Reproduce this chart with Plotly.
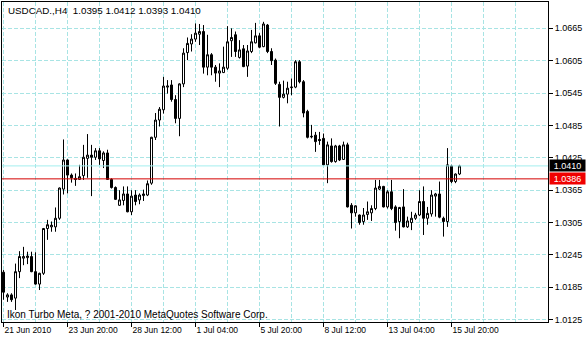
import plotly.graph_objects as go

# ---- data (USDCAD H4) ----
bar_index = list(range(115))
open_ = [1.0213, 1.0167, 1.0171, 1.0165, 1.0214, 1.0239, 1.0240, 1.0242, 1.0214, 1.0191,
         1.0211, 1.0294, 1.0297, 1.0297, 1.0313, 1.0367, 1.0421, 1.0393, 1.0387, 1.0385,
         1.0392, 1.0424, 1.0430, 1.0426, 1.0438, 1.0420, 1.0434, 1.0385, 1.0370, 1.0337,
         1.0346, 1.0358, 1.0325, 1.0356, 1.0347, 1.0355, 1.0356, 1.0378, 1.0463, 1.0495,
         1.0514, 1.0556, 1.0560, 1.0533, 1.0498, 1.0562, 1.0620, 1.0636, 1.0645, 1.0654,
         1.0659, 1.0593, 1.0616, 1.0593, 1.0582, 1.0583, 1.0591, 1.0642, 1.0653, 1.0611,
         1.0627, 1.0595, 1.0622, 1.0638, 1.0651, 1.0631, 1.0671, 1.0622, 1.0606, 1.0561,
         1.0537, 1.0543, 1.0555, 1.0556, 1.0603, 1.0566, 1.0511, 1.0465, 1.0467, 1.0459,
         1.0461, 1.0412, 1.0447, 1.0418, 1.0447, 1.0422, 1.0449, 1.0337, 1.0323, 1.0319,
         1.0307, 1.0320, 1.0323, 1.0331, 1.0367, 1.0372, 1.0334, 1.0362, 1.0334, 1.0307,
         1.0334, 1.0297, 1.0305, 1.0313, 1.0319, 1.0344, 1.0313, 1.0321, 1.0354, 1.0358,
         1.0313, 1.0307, 1.0410, 1.0381, 1.0395]
high = [1.0217, 1.0174, 1.0174, 1.0229, 1.0252, 1.0260, 1.0251, 1.0251, 1.0250, 1.0212,
        1.0295, 1.0310, 1.0307, 1.0333, 1.0370, 1.0459, 1.0422, 1.0396, 1.0396, 1.0412,
        1.0449, 1.0469, 1.0449, 1.0443, 1.0443, 1.0437, 1.0440, 1.0387, 1.0372, 1.0365,
        1.0372, 1.0372, 1.0365, 1.0365, 1.0359, 1.0366, 1.0383, 1.0464, 1.0508, 1.0519,
        1.0575, 1.0569, 1.0569, 1.0541, 1.0563, 1.0628, 1.0648, 1.0654, 1.0674, 1.0673,
        1.0671, 1.0653, 1.0619, 1.0597, 1.0600, 1.0631, 1.0669, 1.0665, 1.0659, 1.0643,
        1.0634, 1.0634, 1.0662, 1.0675, 1.0656, 1.0677, 1.0673, 1.0628, 1.0609, 1.0566,
        1.0568, 1.0566, 1.0572, 1.0606, 1.0606, 1.0569, 1.0514, 1.0486, 1.0473, 1.0473,
        1.0470, 1.0455, 1.0461, 1.0449, 1.0449, 1.0455, 1.0453, 1.0341, 1.0337, 1.0320,
        1.0332, 1.0344, 1.0337, 1.0384, 1.0384, 1.0373, 1.0365, 1.0384, 1.0337, 1.0334,
        1.0367, 1.0316, 1.0325, 1.0323, 1.0365, 1.0372, 1.0334, 1.0365, 1.0360, 1.0381,
        1.0316, 1.0443, 1.0412, 1.0396, 1.0412]
low = [1.0162, 1.0158, 1.0158, 1.0143, 1.0202, 1.0226, 1.0228, 1.0213, 1.0190, 1.0180,
       1.0208, 1.0273, 1.0288, 1.0288, 1.0310, 1.0357, 1.0359, 1.0379, 1.0373, 1.0384,
       1.0384, 1.0388, 1.0354, 1.0421, 1.0412, 1.0406, 1.0384, 1.0368, 1.0347, 1.0336,
       1.0337, 1.0324, 1.0319, 1.0337, 1.0339, 1.0345, 1.0354, 1.0375, 1.0458, 1.0483,
       1.0507, 1.0544, 1.0529, 1.0489, 1.0465, 1.0556, 1.0606, 1.0622, 1.0640, 1.0634,
       1.0581, 1.0578, 1.0578, 1.0566, 1.0556, 1.0582, 1.0588, 1.0612, 1.0612, 1.0609,
       1.0593, 1.0575, 1.0619, 1.0637, 1.0628, 1.0630, 1.0619, 1.0597, 1.0560, 1.0483,
       1.0535, 1.0526, 1.0541, 1.0554, 1.0563, 1.0500, 1.0461, 1.0461, 1.0436, 1.0449,
       1.0411, 1.0378, 1.0416, 1.0416, 1.0419, 1.0421, 1.0333, 1.0294, 1.0316, 1.0301,
       1.0301, 1.0310, 1.0308, 1.0328, 1.0365, 1.0333, 1.0331, 1.0328, 1.0290, 1.0276,
       1.0296, 1.0295, 1.0291, 1.0310, 1.0317, 1.0282, 1.0301, 1.0316, 1.0316, 1.0313,
       1.0279, 1.0297, 1.0378, 1.0378, 1.0393]
close = [1.0176, 1.0171, 1.0162, 1.0214, 1.0242, 1.0242, 1.0243, 1.0214, 1.0191, 1.0211,
         1.0294, 1.0301, 1.0300, 1.0313, 1.0369, 1.0421, 1.0393, 1.0388, 1.0385, 1.0390,
         1.0426, 1.0430, 1.0426, 1.0438, 1.0423, 1.0434, 1.0385, 1.0370, 1.0348, 1.0347,
         1.0358, 1.0325, 1.0354, 1.0344, 1.0356, 1.0358, 1.0377, 1.0463, 1.0495, 1.0515,
         1.0558, 1.0558, 1.0533, 1.0498, 1.0562, 1.0619, 1.0637, 1.0645, 1.0656, 1.0659,
         1.0593, 1.0616, 1.0593, 1.0582, 1.0586, 1.0593, 1.0640, 1.0648, 1.0622, 1.0625,
         1.0594, 1.0623, 1.0640, 1.0651, 1.0630, 1.0673, 1.0622, 1.0605, 1.0563, 1.0537,
         1.0543, 1.0554, 1.0556, 1.0603, 1.0566, 1.0508, 1.0463, 1.0464, 1.0455, 1.0457,
         1.0412, 1.0449, 1.0418, 1.0447, 1.0421, 1.0449, 1.0334, 1.0323, 1.0336, 1.0305,
         1.0319, 1.0325, 1.0331, 1.0369, 1.0372, 1.0334, 1.0362, 1.0331, 1.0305, 1.0333,
         1.0297, 1.0308, 1.0313, 1.0319, 1.0344, 1.0313, 1.0322, 1.0356, 1.0358, 1.0315,
         1.0307, 1.0412, 1.0381, 1.0395, 1.0410]

x_tick_bars = [0, 16, 32, 48, 64, 80, 96, 112]
x_tick_text = ["21 Jun 2010", "23 Jun 20:00", "28 Jun 12:00", "1 Jul 04:00",
               "5 Jul 20:00", "8 Jul 12:00", "13 Jul 04:00", "15 Jul 20:00"]
y_ticks = [1.0125, 1.0185, 1.0245, 1.0305, 1.0365, 1.0425, 1.0485, 1.0545, 1.0605, 1.0665]
bid_price = 1.0410
red_level = 1.0386
title_text = "USDCAD.,H4  1.0395 1.0412 1.0393 1.0410"
footer_text = "Ikon Turbo Meta, ? 2001-2010 MetaQuotes Software Corp."

FONT = "Liberation Sans, Arial, sans-serif"
GRID = "#a8e4e4"

fig = go.Figure()
fig.add_trace(go.Candlestick(
    x=bar_index, open=open_, high=high, low=low, close=close,
    increasing=dict(line=dict(color="black", width=1), fillcolor="white"),
    decreasing=dict(line=dict(color="black", width=1), fillcolor="black"),
    whiskerwidth=0, hoverinfo="skip", showlegend=False,
))

fig.add_hline(y=bid_price, line=dict(color="#a4eeee", width=1))
fig.add_hline(y=red_level, line=dict(color="#d40000", width=1))

fig.update_layout(
    width=586, height=340,
    margin=dict(l=2, r=38, t=2, b=18),
    paper_bgcolor="white", plot_bgcolor="white",
    boxgap=0.5, boxgroupgap=0,
    font=dict(family=FONT, size=9, color="black"),
    showlegend=False,
    xaxis=dict(
        range=[-0.375, 136.125], rangeslider=dict(visible=False),
        tickmode="array", tickvals=x_tick_bars, ticktext=x_tick_text,
        ticks="outside", ticklen=4, tickcolor="black",
        ticklabelposition="outside right",
        tickfont=dict(family=FONT, size=8.5, color="black"),
        showgrid=True, gridcolor=GRID, griddash="4px,2px", gridwidth=1,
        minor=dict(tick0=0, dtick=8, showgrid=True, gridcolor=GRID,
                   griddash="4px,2px", gridwidth=1, ticks=""),
        showline=True, linecolor="black", linewidth=1, mirror=True,
        zeroline=False,
    ),
    yaxis=dict(
        range=[1.012074, 1.071373], side="right",
        tickmode="array", tickvals=y_ticks, tickformat=".4f",
        ticks="outside", ticklen=4, tickcolor="black",
        tickfont=dict(family=FONT, size=9, color="black"),
        showgrid=True, gridcolor=GRID, griddash="4px,2px", gridwidth=1,
        showline=True, linecolor="black", linewidth=1, mirror=True,
        zeroline=False,
    ),
)

fig.add_annotation(text=title_text, xref="paper", yref="paper", x=0, y=1,
                   xanchor="left", yanchor="middle", xshift=4, yshift=-8,
                   showarrow=False, font=dict(family=FONT, size=9.8, color="black"))
fig.add_annotation(text=footer_text, xref="paper", yref="paper", x=0, y=0,
                   xanchor="left", yanchor="middle", xshift=3, yshift=8,
                   showarrow=False, font=dict(family=FONT, size=10, color="black"))
fig.add_annotation(text=f"{bid_price:.4f}", xref="paper", yref="y", x=1, y=bid_price,
                   xanchor="left", yanchor="middle", xshift=1, showarrow=False,
                   bgcolor="black", width=33, height=9, borderpad=1,
                   font=dict(family=FONT, size=9, color="white"))
fig.add_annotation(text=f"{red_level:.4f}", xref="paper", yref="y", x=1, y=red_level,
                   xanchor="left", yanchor="middle", xshift=1, showarrow=False,
                   bgcolor="#f00000", width=33, height=9, borderpad=1,
                   font=dict(family=FONT, size=9, color="white"))

fig.write_html("out.html")
